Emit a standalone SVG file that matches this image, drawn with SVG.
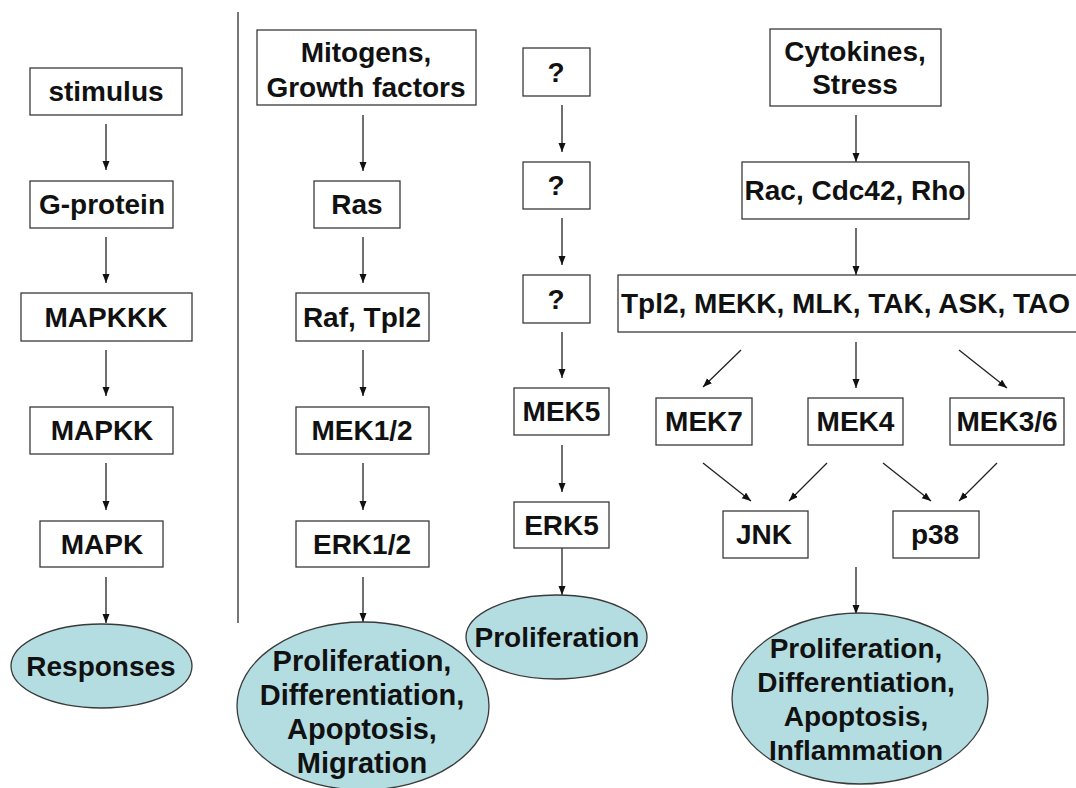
<svg xmlns="http://www.w3.org/2000/svg" width="1076" height="788" viewBox="0 0 1076 788">
<defs>
<style>
.box{fill:#fff;stroke:#3a3a3a;stroke-width:1.3}
.ell{fill:#b4dde1;stroke:#3a3a3a;stroke-width:1.3}
.t{font-family:"Liberation Sans",Arial,sans-serif;font-weight:bold;font-size:28px;fill:#111;text-anchor:middle}
.c line{stroke:#222;stroke-width:1.3;marker-end:url(#ah)}
</style>
<marker id="ah" markerUnits="userSpaceOnUse" markerWidth="10" markerHeight="8" refX="9" refY="3.5" orient="auto">
<path d="M0,0 L9,3.5 L0,7 z" fill="#111"/>
</marker>
</defs>
<rect width="1076" height="788" fill="#fff"/>
<line x1="238" y1="12" x2="238" y2="623" stroke="#555" stroke-width="1.6"/>

<g class="c" id="connectors">
<line x1="106" y1="124" x2="106" y2="170"/>
<line x1="106" y1="237" x2="106" y2="283"/>
<line x1="106" y1="350" x2="106" y2="396"/>
<line x1="106" y1="463" x2="106" y2="510"/>
<line x1="106" y1="577" x2="106" y2="623"/>
<line x1="363" y1="115" x2="363" y2="171"/>
<line x1="363" y1="237" x2="363" y2="283"/>
<line x1="363" y1="350" x2="363" y2="396"/>
<line x1="363" y1="463" x2="363" y2="510"/>
<line x1="363" y1="577" x2="363" y2="622"/>
<line x1="562" y1="105" x2="562" y2="152"/>
<line x1="562" y1="218" x2="562" y2="265"/>
<line x1="562" y1="332" x2="562" y2="378"/>
<line x1="562" y1="445" x2="562" y2="492"/>
<line x1="562" y1="548" x2="562" y2="595"/>
<line x1="856" y1="115" x2="856" y2="162"/>
<line x1="856" y1="228" x2="856" y2="275"/>
<line x1="741" y1="350" x2="703" y2="387"/>
<line x1="856" y1="342" x2="856" y2="388"/>
<line x1="959" y1="350" x2="1007" y2="388"/>
<line x1="703" y1="463" x2="751" y2="501"/>
<line x1="827" y1="463" x2="789" y2="501"/>
<line x1="883" y1="463" x2="931" y2="501"/>
<line x1="997" y1="463" x2="959" y2="501"/>
<line x1="856" y1="567" x2="856" y2="614"/>
</g>

<g id="stimulus"><rect class="box" x="30" y="68" width="152" height="47"/><text class="t" x="106" y="101">stimulus</text></g>
<g id="gprotein"><rect class="box" x="30" y="181" width="143" height="47"/><text class="t" x="102" y="214">G-protein</text></g>
<g id="mapkkk"><rect class="box" x="21" y="293" width="171" height="48"/><text class="t" x="106" y="327">MAPKKK</text></g>
<g id="mapkk"><rect class="box" x="30" y="407" width="143" height="47"/><text class="t" x="102" y="440">MAPKK</text></g>
<g id="mapk"><rect class="box" x="40" y="521" width="123" height="46"/><text class="t" x="102" y="554">MAPK</text></g>
<g id="responses"><ellipse class="ell" cx="101.5" cy="666" rx="90.5" ry="42"/><text class="t" x="101" y="676">Responses</text></g>

<g id="mitogens"><rect class="box" x="257" y="30" width="219" height="75"/><text class="t" x="366" y="62">Mitogens,</text><text class="t" x="366" y="97">Growth factors</text></g>
<g id="ras"><rect class="box" x="314" y="181" width="86" height="47"/><text class="t" x="357" y="214">Ras</text></g>
<g id="raf"><rect class="box" x="296" y="293" width="133" height="48"/><text class="t" x="362" y="327">Raf, Tpl2</text></g>
<g id="mek12"><rect class="box" x="296" y="407" width="133" height="47"/><text class="t" x="362" y="440">MEK1/2</text></g>
<g id="erk12"><rect class="box" x="296" y="521" width="133" height="46"/><text class="t" x="362" y="554">ERK1/2</text></g>
<g id="out1"><ellipse class="ell" cx="363" cy="706" rx="126" ry="84"/>
<text class="t" style="font-size:29px" x="362" y="671">Proliferation,</text>
<text class="t" style="font-size:29px" x="362" y="705">Differentiation,</text>
<text class="t" style="font-size:29px" x="362" y="739">Apoptosis,</text>
<text class="t" style="font-size:29px" x="362" y="773">Migration</text></g>

<g id="q1"><rect class="box" x="523" y="48" width="67" height="48"/><text class="t" x="556" y="82">?</text></g>
<g id="q2"><rect class="box" x="523" y="162" width="67" height="47"/><text class="t" x="556" y="195">?</text></g>
<g id="q3"><rect class="box" x="523" y="275" width="67" height="48"/><text class="t" x="556" y="309">?</text></g>
<g id="mek5"><rect class="box" x="514" y="388" width="95" height="47"/><text class="t" x="561.5" y="421">MEK5</text></g>
<g id="erk5"><rect class="box" x="514" y="502" width="95" height="46"/><text class="t" x="561.5" y="535">ERK5</text></g>
<g id="out2"><ellipse class="ell" cx="556.5" cy="637" rx="90.5" ry="42"/><text class="t" x="557" y="647">Proliferation</text></g>

<g id="cytokines"><rect class="box" x="770" y="29" width="171" height="77"/><text class="t" x="855" y="61">Cytokines,</text><text class="t" x="855" y="94">Stress</text></g>
<g id="rac"><rect class="box" x="742" y="162" width="227" height="57"/><text class="t" x="855" y="200">Rac, Cdc42, Rho</text></g>
<g id="mapkkks"><rect class="box" x="618" y="275" width="470" height="57"/><text class="t" x="621" y="313" style="text-anchor:start">Tpl2, MEKK, MLK, TAK, ASK, TAO</text></g>
<g id="mek7"><rect class="box" x="656" y="398" width="96" height="47"/><text class="t" x="704" y="431">MEK7</text></g>
<g id="mek4"><rect class="box" x="808" y="398" width="95" height="47"/><text class="t" x="855.5" y="431">MEK4</text></g>
<g id="mek36"><rect class="box" x="950" y="398" width="114" height="47"/><text class="t" x="1007" y="431">MEK3/6</text></g>
<g id="jnk"><rect class="box" x="723" y="511" width="85" height="47"/><text class="t" x="764" y="544">JNK</text></g>
<g id="p38"><rect class="box" x="893" y="511" width="86" height="47"/><text class="t" x="935" y="544">p38</text></g>
<g id="out3"><ellipse class="ell" cx="860" cy="698.5" rx="128" ry="85.5"/>
<text class="t" x="856" y="658">Proliferation,</text>
<text class="t" x="856" y="692">Differentiation,</text>
<text class="t" x="856" y="726">Apoptosis,</text>
<text class="t" x="856" y="760">Inflammation</text></g>
</svg>
